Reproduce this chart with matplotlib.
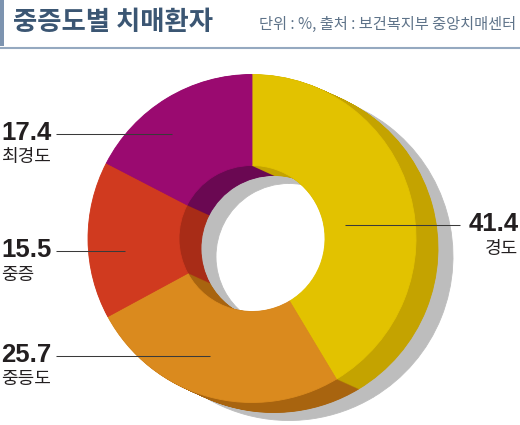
import matplotlib
matplotlib.use('Agg')
import matplotlib.pyplot as plt
from matplotlib.patches import Rectangle
import numpy as np

# ---- data ----
categories = ['경도', '중등도', '중증', '최경도']
values = [41.4, 25.7, 15.5, 17.4]
title = '중증도별 치매환자'
source = '단위 : %, 출처 : 보건복지부 중앙치매센터'

# ---- styles ----
front_colors = ['#E2C200', '#DA8A1E', '#D03A1F', '#9A0A70']
side_colors = ['#C4A300', '#A8640F', '#A82C17', '#6A0852']
shadow_color = '#BDBDBD'
text_color = '#231F20'
KR = ['Noto Sans CJK KR', 'DejaVu Sans']
NUM = ['Liberation Sans Narrow', 'Liberation Sans', 'DejaVu Sans']

W, H = 520, 425
fig = plt.figure(figsize=(5.2, 4.25), dpi=100)
ax = fig.add_axes([0, 0, 1, 1])

def Y(ypx):
    return H - ypx

cx, cy = 252, Y(238.5)
R = 164
r_in = 73
dx, dy = 22, -10      # extrusion offset
sx, sy = 37, -18      # shadow offset

def donut(center, colors, z):
    wedges, _ = ax.pie(values, colors=colors, startangle=90, counterclock=False,
                       radius=R, center=center,
                       wedgeprops=dict(width=R - r_in, linewidth=0.6))
    for w in wedges:
        w.set_edgecolor(w.get_facecolor())
        w.set_zorder(z)
    return wedges

donut((cx + sx, cy + sy), [shadow_color] * len(values), 1)
N = 32
for i, t in enumerate(np.linspace(1, 0.03, N)):
    donut((cx + dx * t, cy + dy * t), side_colors, 2 + i * 0.01)
donut((cx, cy), front_colors, 3)

# ---- labels ----
num_pos = [(519, 224, 'right'), (1, 355, 'left'), (1, 250, 'left'), (1, 133, 'left')]
lab_dy = [25, 24, 25, 24]
line_x = [(345, 460), (56, 210), (56, 125), (56, 172)]

for cat, v, (x, y, ha), ldy, (x0, x1) in zip(categories, values, num_pos, lab_dy, line_x):
    ax.text(x, Y(y), f'{v:.1f}', ha=ha, va='center', fontsize=18.5, fontweight='bold',
            family=NUM, color=text_color, zorder=10)
    ax.text(x - (1 if ha == 'right' else 0), Y(y + ldy), cat, ha=ha, va='center',
            fontsize=13, family=KR, color=text_color, zorder=10)
    ax.plot([x0, x1], [Y(y + 0.5), Y(y + 0.5)], color='#3A3A3A', lw=0.75, zorder=10,
            solid_capstyle='butt')

# ---- header ----
ax.add_patch(Rectangle((0, Y(46)), 4, 46, color='#7D94B0', lw=0, zorder=10))
ax.plot([0, W], [Y(47.5), Y(47.5)], color='#95A9C0', lw=1.5, zorder=10)
ax.text(13, Y(22), title, ha='left', va='center', fontsize=19, fontweight='bold',
        family=KR, color='#3B5673', zorder=10)
ax.text(516, Y(24), source, ha='right', va='center', fontsize=11,
        family=KR, color='#5E7389', zorder=10)

ax.set_xlim(0, W)
ax.set_ylim(0, H)
ax.set_aspect('equal')
ax.axis('off')
fig.savefig('out.png', dpi=100)
